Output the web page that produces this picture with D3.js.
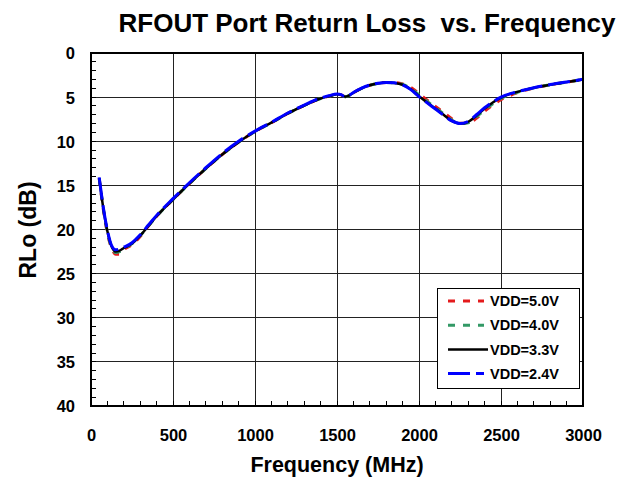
<!DOCTYPE html>
<html>
<head>
<meta charset="utf-8">
<script src="https://cdn.jsdelivr.net/npm/d3@7"></script>
<style>
  html, body { margin: 0; padding: 0; background: #fff; }
  svg { display: block; font-family: "Liberation Sans", Arial, sans-serif; font-weight: bold; }
  .title { white-space: pre; }
</style>
</head>
<body>
<script>
// Frequency points (MHz)
const freq = [50, 75, 100, 125, 150, 175, 200, 250, 300, 350, 400, 500, 600, 700, 800, 900,
  1000, 1100, 1200, 1300, 1400, 1450, 1500, 1525, 1550, 1575, 1600, 1650, 1700, 1750, 1800,
  1850, 1900, 1950, 2000, 2050, 2100, 2150, 2200, 2250, 2300, 2350, 2400, 2450, 2500,
  2600, 2700, 2800, 2900, 3000];

// Return loss (dB) for each supply voltage
const rl50 = [14.2, 17.7, 20.4, 22.1, 22.8, 22.8, 22.3, 21.7, 20.8, 19.6, 18.5, 16.6, 14.8, 13.1, 11.5, 10.1,
  8.9, 7.9, 6.85, 5.95, 5.15, 4.9, 4.68, 4.75, 4.95, 4.8, 4.5, 4.0, 3.65, 3.45, 3.35,
  3.35, 3.5, 3.9, 4.6, 5.35, 6.05, 6.75, 7.45, 7.95, 7.95, 7.4, 6.6, 5.9, 5.3,
  4.5, 3.95, 3.6, 3.3, 3.0];
const rl40 = [14.2, 17.6, 20.3, 22.0, 22.6, 22.5, 22.2, 21.6, 20.7, 19.6, 18.5, 16.6, 14.8, 13.1, 11.5, 10.1,
  8.9, 7.9, 6.85, 5.95, 5.15, 4.9, 4.68, 4.75, 4.95, 4.8, 4.5, 4.0, 3.65, 3.45, 3.35,
  3.38, 3.55, 4.0, 4.75, 5.5, 6.2, 6.9, 7.6, 8.0, 7.9, 7.25, 6.45, 5.75, 5.15,
  4.45, 3.95, 3.6, 3.3, 3.0];
const rl33 = [14.2, 17.6, 20.2, 21.9, 22.5, 22.4, 22.1, 21.6, 20.7, 19.6, 18.5, 16.6, 14.8, 13.1, 11.5, 10.1,
  8.9, 7.9, 6.85, 5.95, 5.15, 4.9, 4.68, 4.75, 4.95, 4.8, 4.5, 4.0, 3.65, 3.45, 3.35,
  3.4, 3.6, 4.1, 4.9, 5.6, 6.3, 7.0, 7.7, 8.0, 7.8, 7.1, 6.3, 5.6, 5.05,
  4.4, 3.95, 3.6, 3.3, 3.0];
const rl24 = [14.1, 17.5, 20.1, 21.8, 22.3, 22.2, 22.0, 21.5, 20.6, 19.5, 18.4, 16.5, 14.7, 13.0, 11.4, 10.0,
  8.85, 7.85, 6.8, 5.9, 5.1, 4.85, 4.65, 4.72, 4.95, 4.78, 4.48, 3.98, 3.63, 3.43, 3.33,
  3.38, 3.62, 4.15, 4.95, 5.65, 6.35, 7.05, 7.7, 8.0, 7.75, 7.0, 6.2, 5.55, 5.0,
  4.38, 3.93, 3.58, 3.28, 2.98];

const seriesNames = ["VDD=5.0V", "VDD=4.0V", "VDD=3.3V", "VDD=2.4V"];
const seriesValues = [rl50, rl40, rl33, rl24];
const seriesColors = ["#e41a1c", "#339966", "#000000", "#0000ff"];
const seriesDash = ["7,8", "7,8", null, "22,6"];
const seriesWidth = [3, 3, 2.5, 3];

const xTicks = [0, 500, 1000, 1500, 2000, 2500, 3000];
const yTicks = [0, 5, 10, 15, 20, 25, 30, 35, 40];

const W = 632, H = 479;
const m = { left: 91, right: 583, top: 53, bottom: 406 };

const svg = d3.select("body").append("svg").attr("width", W).attr("height", H);

const x = d3.scaleLinear().domain([0, 3000]).range([m.left, m.right]);
const y = d3.scaleLinear().domain([0, 40]).range([m.top, m.bottom]);

// Grid lines
const grid = svg.append("g").attr("stroke", "#222").attr("stroke-width", 1).attr("shape-rendering", "crispEdges");
grid.selectAll(".gx").data(xTicks.slice(1, -1)).join("line")
  .attr("x1", d => x(d)).attr("x2", d => x(d)).attr("y1", m.top).attr("y2", m.bottom);
grid.selectAll(".gy").data(yTicks.slice(1, -1)).join("line")
  .attr("y1", d => y(d)).attr("y2", d => y(d)).attr("x1", m.left).attr("x2", m.right);

// Minor ticks: every 1 dB on the left, every 100 MHz along the bottom
const minor = svg.append("g").attr("stroke", "#000").attr("stroke-width", 1).attr("shape-rendering", "crispEdges");
minor.selectAll(".my").data(d3.range(1, 40)).join("line")
  .attr("x1", m.left).attr("x2", m.left + 5).attr("y1", d => y(d)).attr("y2", d => y(d));
minor.selectAll(".mx").data(d3.range(100, 3000, 100)).join("line")
  .attr("x1", d => x(d)).attr("x2", d => x(d)).attr("y1", m.bottom).attr("y2", m.bottom - 5);

// Axes (labels only)
const xAxis = d3.axisBottom(x).tickValues(xTicks).tickFormat(d3.format("d")).tickSize(0).tickPadding(0);
const gx = svg.append("g").attr("transform", `translate(0,${m.bottom})`).call(xAxis);
gx.select(".domain").remove();
gx.selectAll("text").attr("dy", null).attr("y", 35).attr("font-size", 16.5)
  .attr("font-family", "Liberation Sans, Arial, sans-serif").attr("font-weight", "bold").attr("fill", "#000");

const yAxis = d3.axisLeft(y).tickValues(yTicks).tickFormat(d3.format("d")).tickSize(0).tickPadding(0);
const gy = svg.append("g").attr("transform", `translate(${m.left},0)`).call(yAxis);
gy.select(".domain").remove();
gy.selectAll("text").attr("x", -16).attr("dy", "0.36em").attr("font-size", 16.5)
  .attr("font-family", "Liberation Sans, Arial, sans-serif").attr("font-weight", "bold").attr("fill", "#000");

// Curves
const line = d3.line().x(d => x(d[0])).y(d => y(d[1])).curve(d3.curveMonotoneX);
const curves = svg.append("g");
seriesValues.forEach((vals, i) => {
  curves.append("path")
    .datum(freq.map((f, j) => [f, vals[j]]))
    .attr("fill", "none")
    .attr("stroke", seriesColors[i])
    .attr("stroke-width", seriesWidth[i])
    .attr("stroke-dasharray", seriesDash[i])
    .attr("stroke-linejoin", "round")
    .attr("d", line);
});

// Plot frame
svg.append("rect")
  .attr("x", m.left).attr("y", m.top)
  .attr("width", m.right - m.left).attr("height", m.bottom - m.top)
  .attr("fill", "none").attr("stroke", "#000").attr("stroke-width", 2);

// Legend
const lg = svg.append("g");
lg.append("rect").attr("x", 437).attr("y", 288).attr("width", 142).attr("height", 100)
  .attr("fill", "#fff").attr("stroke", "#000").attr("stroke-width", 1).attr("shape-rendering", "crispEdges");
seriesNames.forEach((name, i) => {
  const cy = 301 + i * 24.2;
  lg.append("line")
    .attr("x1", 448).attr("x2", seriesDash[i] ? 484 : 488)
    .attr("y1", cy).attr("y2", cy)
    .attr("stroke", seriesColors[i]).attr("stroke-width", seriesWidth[i])
    .attr("stroke-dasharray", seriesDash[i]);
  lg.append("text").attr("x", 490).attr("y", cy).attr("dy", "0.36em")
    .attr("font-size", 14.5).text(name);
});

// Titles
svg.append("text").attr("class", "title").attr("x", 367).attr("y", 32).attr("text-anchor", "middle")
  .attr("font-size", 26).text("RFOUT Port Return Loss  vs. Frequency");
svg.append("text").attr("x", 337).attr("y", 472).attr("text-anchor", "middle")
  .attr("font-size", 21.5).text("Frequency (MHz)");
svg.append("text").attr("transform", "translate(36,230) rotate(-90)").attr("text-anchor", "middle")
  .attr("font-size", 23).text("RLo (dB)");
</script>
</body>
</html>
